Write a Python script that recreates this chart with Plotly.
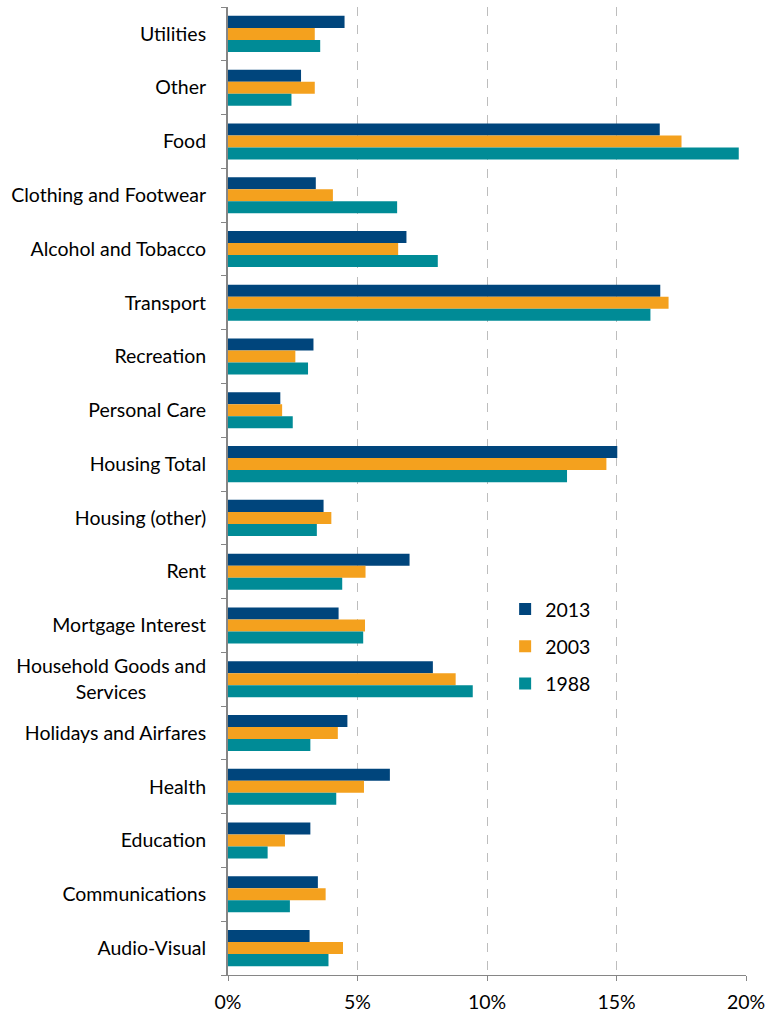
import plotly.graph_objects as go

categories = ["Utilities", "Other", "Food", "Clothing and Footwear", "Alcohol and Tobacco",
              "Transport", "Recreation", "Personal Care", "Housing Total", "Housing (other)",
              "Rent", "Mortgage Interest", "Household Goods and Services",
              "Holidays and Airfares", "Health", "Education", "Communications", "Audio-Visual"]
tick_labels = ["Utilities", "Other", "Food", "Clothing and Footwear", "Alcohol and Tobacco",
               "Transport", "Recreation", "Personal Care", "Housing Total", "Housing (other)",
               "Rent", "Mortgage Interest",
               "Household Goods and<br>Services" + "\u00a0" * 12,
               "Holidays and Airfares", "Health", "Education", "Communications", "Audio-Visual"]
x_ticks = [0, 5, 10, 15, 20]
x_tick_labels = ["0%", "5%", "10%", "15%", "20%"]

v2013 = [4.50, 2.82, 16.67, 3.39, 6.89, 16.69, 3.30, 2.02, 15.03, 3.69, 7.01, 4.27, 7.91,
         4.61, 6.25, 3.18, 3.47, 3.15]
v2003 = [3.35, 3.35, 17.51, 4.05, 6.57, 17.01, 2.60, 2.09, 14.61, 3.99, 5.31, 5.29, 8.79,
         4.24, 5.25, 2.20, 3.77, 4.44]
v1988 = [3.56, 2.45, 19.72, 6.53, 8.10, 16.31, 3.09, 2.50, 13.09, 3.43, 4.41, 5.22, 9.45,
         3.18, 4.18, 1.53, 2.39, 3.88]

series = [("2013", v2013, "#00457C"), ("2003", v2003, "#F4A11E"), ("1988", v1988, "#008B96")]

fig = go.Figure()
for name, vals, color in series:
    fig.add_trace(go.Bar(name=name, y=categories, x=vals, orientation="h",
                         marker=dict(color=color, line=dict(width=0)),
                         legendgroup=name))

FONT = "Lato"
FS = 19.5
fig.update_layout(
    width=766, height=1015,
    barmode="group", bargap=0.33, bargroupgap=0.0,
    plot_bgcolor="white", paper_bgcolor="white",
    margin=dict(l=228, r=20, t=7, b=40, autoexpand=False),
    font=dict(family=FONT, size=FS, color="#000000"),
    showlegend=True,
    legend=dict(x=0.535, y=0.398, xanchor="left", yanchor="top",
                bgcolor="rgba(0,0,0,0)", font=dict(size=FS),
                tracegroupgap=9, itemwidth=30, traceorder="grouped"),
)
fig.update_xaxes(range=[0, 20], tickvals=x_ticks, ticktext=x_tick_labels,
                 showgrid=True, gridcolor="#BDBDBD", griddash="dash", gridwidth=1,
                 showline=True, linecolor="#868686", linewidth=1,
                 ticks="outside", ticklen=5, tickcolor="#868686",
                 zeroline=False, tickfont=dict(size=FS), automargin=False,
                 ticklabelstandoff=5)
fig.update_yaxes(categoryorder="array", categoryarray=categories,
                 tickvals=categories, ticktext=tick_labels,
                 autorange="reversed", showline=True, linecolor="#868686", linewidth=2,
                 ticks="outside", ticklen=5, tickcolor="#868686", tickson="boundaries",
                 showgrid=False, ticklabelstandoff=16, tickfont=dict(size=FS),
                 automargin=False)

fig.write_html("out.html", config={"displayModeBar": False},
               post_script="document.body.style.margin='0';document.body.style.overflow='hidden';")
